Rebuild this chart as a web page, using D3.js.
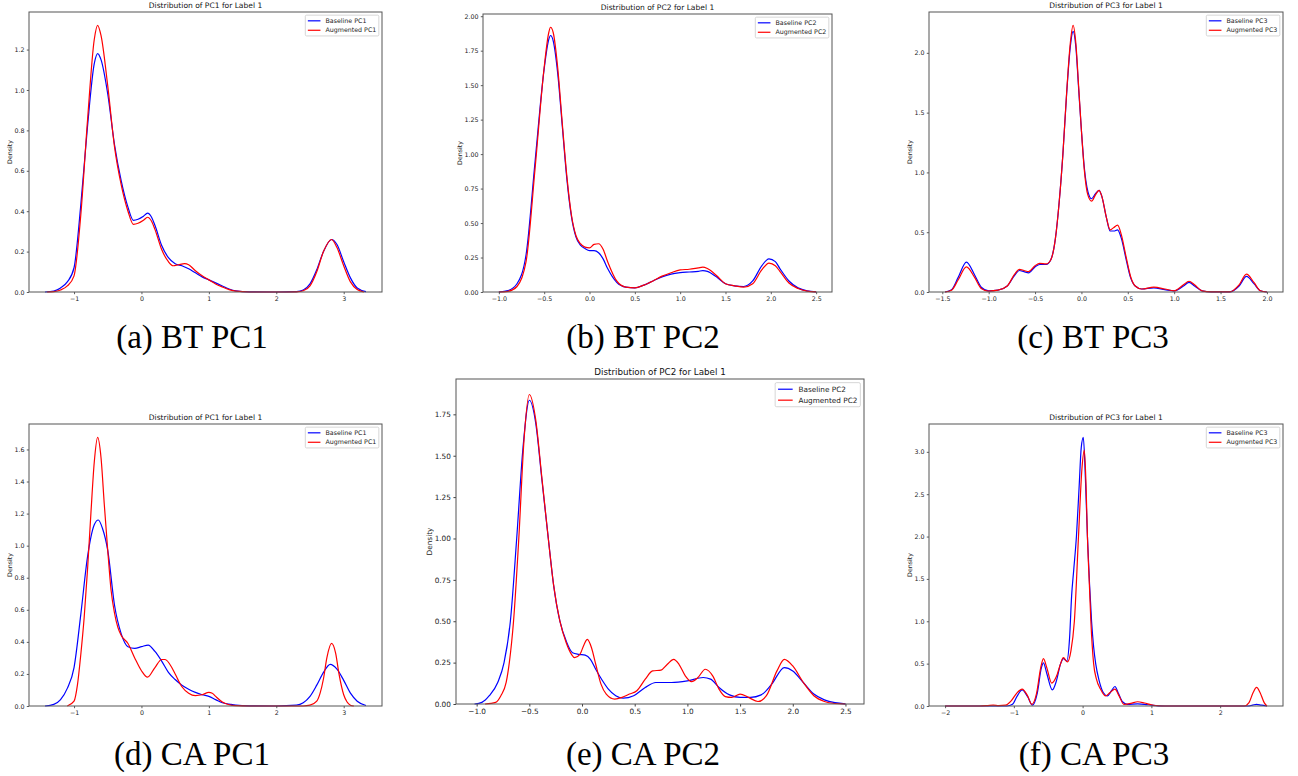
<!DOCTYPE html>
<html>
<head>
<meta charset="utf-8">
<script src="https://cdn.jsdelivr.net/npm/d3@7"></script>
<style>
body { margin: 0; background: #fff; }
</style>
</head>
<body>
<svg id="fig" width="1298" height="776"></svg>
<script>
// density curves, [x, density]
var btPC1Base = [[-1.43,0],[-1.3,0.005],[-1.2,0.02],[-1.1,0.05],[-1.0,0.12],[-0.9,0.43],[-0.8,0.82],[-0.7,1.13],[-0.65,1.18],[-0.6,1.15],[-0.5,0.98],[-0.4,0.73],[-0.3,0.55],[-0.2,0.42],[-0.12,0.355],[-0.05,0.36],[0.03,0.375],[0.09,0.39],[0.15,0.37],[0.2,0.33],[0.3,0.23],[0.4,0.17],[0.5,0.14],[0.6,0.13],[0.7,0.115],[0.8,0.095],[0.9,0.075],[1.0,0.06],[1.1,0.045],[1.2,0.03],[1.3,0.015],[1.4,0.006],[1.6,0.001],[2.0,0],[2.3,0.002],[2.4,0.01],[2.5,0.04],[2.6,0.11],[2.7,0.2],[2.82,0.26],[2.9,0.235],[3.0,0.15],[3.1,0.07],[3.2,0.02],[3.33,0.002]];
var btPC1Aug = [[-1.4,0],[-1.3,0.002],[-1.2,0.01],[-1.1,0.03],[-1.0,0.08],[-0.9,0.38],[-0.8,0.85],[-0.7,1.25],[-0.65,1.32],[-0.6,1.27],[-0.5,1.02],[-0.4,0.72],[-0.3,0.53],[-0.2,0.4],[-0.12,0.335],[-0.05,0.34],[0.03,0.355],[0.09,0.37],[0.15,0.35],[0.2,0.31],[0.3,0.21],[0.4,0.15],[0.47,0.13],[0.55,0.135],[0.64,0.14],[0.7,0.135],[0.8,0.105],[0.9,0.08],[1.0,0.06],[1.1,0.04],[1.2,0.025],[1.3,0.012],[1.4,0.004],[1.6,0],[2.0,0],[2.3,0.001],[2.4,0.006],[2.5,0.03],[2.6,0.1],[2.7,0.2],[2.82,0.26],[2.9,0.22],[3.0,0.13],[3.1,0.05],[3.2,0.012],[3.3,0]];

var btPC2Base = [[-1.0,0],[-0.9,0.01],[-0.8,0.06],[-0.7,0.27],[-0.6,0.95],[-0.5,1.62],[-0.45,1.83],[-0.43,1.86],[-0.4,1.82],[-0.35,1.58],[-0.3,1.2],[-0.25,0.82],[-0.2,0.55],[-0.15,0.4],[-0.1,0.34],[-0.05,0.315],[0,0.3],[0.05,0.3],[0.1,0.285],[0.15,0.24],[0.2,0.17],[0.3,0.07],[0.4,0.035],[0.5,0.03],[0.6,0.05],[0.7,0.08],[0.8,0.11],[0.9,0.13],[1.0,0.14],[1.1,0.145],[1.2,0.15],[1.25,0.155],[1.3,0.15],[1.4,0.11],[1.5,0.06],[1.6,0.045],[1.7,0.04],[1.8,0.08],[1.9,0.19],[1.98,0.24],[2.05,0.22],[2.1,0.17],[2.2,0.08],[2.3,0.03],[2.4,0.008],[2.5,0.001]];
var btPC2Aug = [[-1.0,0],[-0.9,0.005],[-0.8,0.04],[-0.7,0.22],[-0.6,0.9],[-0.5,1.63],[-0.45,1.88],[-0.43,1.92],[-0.4,1.88],[-0.35,1.62],[-0.3,1.22],[-0.25,0.84],[-0.2,0.56],[-0.15,0.41],[-0.1,0.35],[-0.05,0.325],[0,0.32],[0.05,0.345],[0.1,0.35],[0.15,0.31],[0.2,0.22],[0.3,0.08],[0.4,0.035],[0.5,0.03],[0.6,0.05],[0.7,0.08],[0.8,0.115],[0.9,0.14],[1.0,0.16],[1.1,0.165],[1.2,0.175],[1.25,0.18],[1.3,0.17],[1.4,0.12],[1.5,0.06],[1.6,0.045],[1.7,0.035],[1.8,0.06],[1.9,0.16],[1.98,0.21],[2.05,0.19],[2.1,0.15],[2.2,0.065],[2.3,0.025],[2.4,0.006],[2.5,0.001]];

var btPC3Base = [[-1.47,0],[-1.4,0.02],[-1.33,0.12],[-1.24,0.25],[-1.15,0.14],[-1.08,0.04],[-1.0,0.01],[-0.9,0.015],[-0.8,0.05],[-0.72,0.14],[-0.67,0.18],[-0.62,0.17],[-0.57,0.16],[-0.5,0.21],[-0.45,0.23],[-0.38,0.23],[-0.33,0.27],[-0.28,0.45],[-0.24,0.75],[-0.2,1.15],[-0.16,1.65],[-0.12,2.05],[-0.09,2.18],[-0.06,2.05],[-0.03,1.7],[0,1.35],[0.03,1.05],[0.07,0.84],[0.11,0.78],[0.15,0.82],[0.19,0.85],[0.22,0.8],[0.27,0.62],[0.31,0.51],[0.35,0.51],[0.39,0.52],[0.43,0.45],[0.48,0.28],[0.53,0.12],[0.58,0.05],[0.65,0.025],[0.78,0.035],[0.9,0.02],[1.0,0.01],[1.1,0.05],[1.16,0.08],[1.22,0.05],[1.3,0.01],[1.4,0.001],[1.6,0.001],[1.7,0.05],[1.78,0.13],[1.86,0.07],[1.93,0.01],[2.0,0]];
var btPC3Aug = [[-1.47,0],[-1.4,0.015],[-1.33,0.1],[-1.24,0.21],[-1.15,0.12],[-1.08,0.03],[-1.0,0.008],[-0.9,0.015],[-0.8,0.05],[-0.72,0.15],[-0.67,0.19],[-0.62,0.18],[-0.57,0.17],[-0.5,0.22],[-0.45,0.24],[-0.38,0.235],[-0.33,0.27],[-0.28,0.45],[-0.24,0.75],[-0.2,1.15],[-0.16,1.66],[-0.12,2.08],[-0.09,2.23],[-0.06,2.08],[-0.03,1.72],[0,1.35],[0.03,1.03],[0.07,0.81],[0.11,0.76],[0.15,0.81],[0.19,0.85],[0.22,0.8],[0.27,0.62],[0.31,0.52],[0.35,0.54],[0.39,0.56],[0.43,0.48],[0.48,0.3],[0.53,0.13],[0.58,0.05],[0.65,0.025],[0.78,0.04],[0.9,0.025],[1.0,0.01],[1.1,0.06],[1.16,0.09],[1.22,0.06],[1.3,0.01],[1.4,0.001],[1.6,0.001],[1.7,0.06],[1.78,0.15],[1.86,0.08],[1.93,0.01],[2.0,0]];

var caPC1Base = [[-1.43,0],[-1.3,0.01],[-1.2,0.04],[-1.1,0.11],[-1.0,0.24],[-0.9,0.57],[-0.8,0.93],[-0.7,1.13],[-0.64,1.16],[-0.58,1.11],[-0.5,0.97],[-0.4,0.63],[-0.3,0.45],[-0.2,0.37],[-0.1,0.36],[0,0.37],[0.1,0.38],[0.2,0.34],[0.3,0.28],[0.4,0.21],[0.5,0.165],[0.6,0.13],[0.7,0.105],[0.8,0.085],[0.9,0.07],[1.0,0.06],[1.1,0.04],[1.2,0.02],[1.3,0.012],[1.4,0.005],[1.6,0.001],[2.0,0],[2.3,0.005],[2.4,0.02],[2.5,0.06],[2.6,0.13],[2.7,0.21],[2.8,0.26],[2.9,0.23],[3.0,0.16],[3.1,0.08],[3.2,0.03],[3.33,0.003]];
var caPC1Aug = [[-1.1,0],[-1.0,0.03],[-0.95,0.13],[-0.9,0.32],[-0.85,0.55],[-0.8,0.85],[-0.75,1.2],[-0.7,1.52],[-0.65,1.675],[-0.6,1.55],[-0.55,1.25],[-0.5,0.97],[-0.45,0.72],[-0.4,0.58],[-0.35,0.49],[-0.3,0.44],[-0.2,0.39],[-0.1,0.3],[0,0.22],[0.09,0.18],[0.2,0.24],[0.3,0.29],[0.35,0.29],[0.45,0.24],[0.5,0.2],[0.6,0.12],[0.7,0.08],[0.8,0.065],[0.9,0.07],[1.0,0.085],[1.05,0.08],[1.1,0.06],[1.2,0.025],[1.3,0.008],[1.4,0.002],[1.6,0],[2.0,0],[2.4,0],[2.5,0.005],[2.6,0.03],[2.65,0.08],[2.7,0.17],[2.75,0.3],[2.82,0.39],[2.88,0.33],[2.93,0.2],[3.0,0.07],[3.05,0.025],[3.1,0.005],[3.15,0]];

var caPC2Base = [[-1.02,0],[-0.95,0.01],[-0.88,0.05],[-0.8,0.13],[-0.74,0.25],[-0.68,0.5],[-0.62,1.0],[-0.56,1.55],[-0.5,1.835],[-0.44,1.7],[-0.38,1.35],[-0.32,1.0],[-0.27,0.72],[-0.21,0.5],[-0.15,0.38],[-0.09,0.31],[-0.03,0.3],[0.03,0.295],[0.08,0.27],[0.13,0.21],[0.19,0.145],[0.25,0.09],[0.32,0.05],[0.39,0.035],[0.49,0.05],[0.6,0.1],[0.7,0.13],[0.85,0.13],[1.0,0.14],[1.15,0.16],[1.22,0.15],[1.3,0.1],[1.4,0.055],[1.5,0.04],[1.6,0.04],[1.7,0.055],[1.8,0.12],[1.92,0.22],[2.0,0.2],[2.1,0.13],[2.2,0.06],[2.3,0.025],[2.4,0.008],[2.5,0.001]];
var caPC2Aug = [[-0.92,0],[-0.82,0.01],[-0.77,0.05],[-0.72,0.13],[-0.69,0.25],[-0.65,0.5],[-0.6,1.0],[-0.55,1.6],[-0.5,1.87],[-0.44,1.72],[-0.38,1.36],[-0.32,1.0],[-0.27,0.72],[-0.21,0.5],[-0.15,0.37],[-0.1,0.3],[-0.07,0.28],[-0.02,0.3],[0.02,0.36],[0.05,0.39],[0.09,0.34],[0.13,0.24],[0.18,0.12],[0.23,0.06],[0.31,0.03],[0.38,0.04],[0.45,0.06],[0.52,0.08],[0.6,0.15],[0.67,0.2],[0.75,0.205],[0.81,0.24],[0.87,0.27],[0.92,0.24],[0.98,0.17],[1.04,0.135],[1.1,0.16],[1.17,0.21],[1.24,0.17],[1.3,0.09],[1.36,0.045],[1.42,0.04],[1.5,0.06],[1.58,0.04],[1.67,0.015],[1.75,0.05],[1.85,0.2],[1.92,0.27],[2.0,0.23],[2.1,0.13],[2.2,0.05],[2.3,0.015],[2.4,0.003],[2.5,0]];

var caPC3Base = [[-2.0,0],[-1.5,0],[-1.1,0],[-1.02,0.02],[-0.95,0.12],[-0.88,0.19],[-0.8,0.11],[-0.73,0.01],[-0.66,0.15],[-0.6,0.45],[-0.57,0.51],[-0.52,0.38],[-0.44,0.19],[-0.38,0.3],[-0.32,0.5],[-0.28,0.56],[-0.23,0.53],[-0.19,0.8],[-0.16,1.3],[-0.13,1.6],[-0.09,2.0],[-0.05,2.6],[-0.02,3.05],[0.01,3.17],[0.04,2.7],[0.07,2.0],[0.1,1.45],[0.13,1.0],[0.16,0.7],[0.19,0.5],[0.24,0.3],[0.3,0.16],[0.36,0.12],[0.42,0.18],[0.47,0.23],[0.52,0.15],[0.58,0.05],[0.65,0.02],[0.8,0.025],[0.9,0.02],[1.0,0.01],[1.1,0.002],[1.3,0],[2.4,0],[2.47,0.01],[2.53,0.02],[2.6,0.01],[2.68,0]];
var caPC3Aug = [[-2.0,0],[-1.5,0],[-1.38,0.005],[-1.3,0.01],[-1.22,0.005],[-1.12,0.01],[-1.04,0.06],[-0.96,0.15],[-0.88,0.2],[-0.8,0.12],[-0.74,0.02],[-0.67,0.15],[-0.61,0.45],[-0.57,0.56],[-0.52,0.45],[-0.45,0.27],[-0.38,0.35],[-0.32,0.5],[-0.28,0.57],[-0.22,0.52],[-0.17,0.65],[-0.12,1.0],[-0.06,2.0],[-0.01,2.8],[0.025,3.02],[0.05,2.6],[0.07,2.0],[0.1,1.4],[0.12,1.0],[0.16,0.5],[0.2,0.32],[0.26,0.2],[0.33,0.12],[0.4,0.16],[0.47,0.2],[0.53,0.12],[0.6,0.02],[0.7,0.03],[0.8,0.05],[0.9,0.035],[1.0,0.015],[1.1,0.003],[1.2,0],[2.35,0],[2.42,0.04],[2.48,0.16],[2.53,0.22],[2.58,0.16],[2.64,0.04],[2.68,0]];

// tick values
var ticksPC1X = [-1, 0, 1, 2, 3];
var ticksPC2X = [-1.0, -0.5, 0.0, 0.5, 1.0, 1.5, 2.0, 2.5];
var ticksBtPC3X = [-1.5, -1.0, -0.5, 0.0, 0.5, 1.0, 1.5, 2.0];
var ticksCaPC3X = [-2, -1, 0, 1, 2];
var ticksBtPC1Y = [0, 0.2, 0.4, 0.6, 0.8, 1.0, 1.2];
var ticksPC2Y = [0, 0.25, 0.5, 0.75, 1.0, 1.25, 1.5, 1.75, 2.0];
var ticksBtPC3Y = [0, 0.5, 1.0, 1.5, 2.0];
var ticksCaPC1Y = [0, 0.2, 0.4, 0.6, 0.8, 1.0, 1.2, 1.4, 1.6];
var ticksCaPC3Y = [0, 0.5, 1.0, 1.5, 2.0, 2.5, 3.0];

var captions = ["(a) BT PC1", "(b) BT PC2", "(c) BT PC3", "(d) CA PC1", "(e) CA PC2", "(f) CA PC3"];
var pcNames = ["PC1", "PC2", "PC3", "PC1", "PC2", "PC3"];

// layout of each subplot (frame box in px, s = px per pt)
var panels = [
  {base: btPC1Base, aug: btPC1Aug, xt: ticksPC1X, xf: "d", yt: ticksBtPC1Y, yf: ".1f",
   l: 29, t: 12, r: 382, b: 292, s: 0.63, cx: 192, cy: 348},
  {base: btPC2Base, aug: btPC2Aug, xt: ticksPC2X, xf: ".1f", yt: ticksPC2Y, yf: ".2f",
   l: 483, t: 14, r: 832, b: 292, s: 0.63, cx: 643, cy: 348},
  {base: btPC3Base, aug: btPC3Aug, xt: ticksBtPC3X, xf: ".1f", yt: ticksBtPC3Y, yf: ".1f",
   l: 929, t: 12, r: 1283, b: 292, s: 0.63, cx: 1093, cy: 348},
  {base: caPC1Base, aug: caPC1Aug, xt: ticksPC1X, xf: "d", yt: ticksCaPC1Y, yf: ".1f",
   l: 29, t: 424, r: 382, b: 706, s: 0.63, cx: 192, cy: 765},
  {base: caPC2Base, aug: caPC2Aug, xt: ticksPC2X, xf: ".1f", yt: ticksPC2Y.slice(0, 8), yf: ".2f",
   l: 456, t: 379, r: 864, b: 704, s: 0.73, cx: 643, cy: 765},
  {base: caPC3Base, aug: caPC3Aug, xt: ticksCaPC3X, xf: "d", yt: ticksCaPC3Y, yf: ".1f",
   l: 929, t: 424, r: 1283, b: 706, s: 0.63, cx: 1094, cy: 765}
];

var svg = d3.select("#fig");
var font = "DejaVu Sans";

panels.forEach(function(p, i) {
  var s = p.s;
  var all = p.base.concat(p.aug);
  var xe = d3.extent(all, function(d) { return d[0]; });
  var xm = (xe[1] - xe[0]) * 0.05;
  var x = d3.scaleLinear().domain([xe[0] - xm, xe[1] + xm]).range([p.l, p.r]);
  var y = d3.scaleLinear().domain([0, d3.max(all, function(d) { return d[1]; }) * 1.05]).range([p.b, p.t]);

  var g = svg.append("g");

  var line = d3.line()
    .x(function(d) { return x(d[0]); })
    .y(function(d) { return y(d[1]); })
    .curve(d3.curveMonotoneX);

  g.append("path").datum(p.base)
    .attr("d", line).attr("fill", "none")
    .attr("stroke", "#0000ff").attr("stroke-width", 1.2);
  g.append("path").datum(p.aug)
    .attr("d", line).attr("fill", "none")
    .attr("stroke", "#ff0000").attr("stroke-width", 1.2);

  var xAxis = d3.axisBottom(x).tickValues(p.xt).tickFormat(d3.format(p.xf))
    .tickSize(3.5 * s).tickPadding(3.5 * s);
  var yAxis = d3.axisLeft(y).tickValues(p.yt).tickFormat(d3.format(p.yf))
    .tickSize(3.5 * s).tickPadding(3.5 * s);

  var gx = g.append("g").attr("transform", "translate(0," + p.b + ")").call(xAxis);
  var gy = g.append("g").attr("transform", "translate(" + p.l + ",0)").call(yAxis);
  [gx, gy].forEach(function(a) {
    a.select(".domain").remove();
    a.selectAll("line").attr("stroke", "#333").attr("stroke-width", 0.8 * s / 0.63);
    a.selectAll("text").attr("fill", "#222").style("font-family", font).style("font-size", (10 * s) + "px");
  });

  // frame
  g.append("rect")
    .attr("x", p.l).attr("y", p.t)
    .attr("width", p.r - p.l).attr("height", p.b - p.t)
    .attr("fill", "none").attr("stroke", "#555").attr("stroke-width", 1);

  // y label, placed left of the tick labels (bbox is in the axis group's own coords)
  var bb = gy.node().getBBox();
  var lx = p.l + bb.x - 4 * s;
  var ly = (p.t + p.b) / 2;
  g.append("text")
    .attr("transform", "translate(" + lx + "," + ly + ")rotate(-90)")
    .attr("text-anchor", "middle")
    .style("font-family", font).style("font-size", (10 * s) + "px")
    .attr("fill", "#222")
    .text("Density");

  // title
  g.append("text")
    .attr("x", (p.l + p.r) / 2).attr("y", p.t - 6 * s)
    .attr("text-anchor", "middle")
    .style("font-family", font).style("font-size", (12 * s) + "px")
    .attr("fill", "#111")
    .text("Distribution of " + pcNames[i] + " for Label 1");

  // legend
  var fs = 10 * s;
  var names = ["Baseline " + pcNames[i], "Augmented " + pcNames[i]];
  var colors = ["#0000ff", "#ff0000"];
  var lg = g.append("g");
  var box = lg.append("rect").attr("fill", "white").attr("stroke", "#ccc")
    .attr("stroke-width", 0.8).attr("rx", 2 * s);
  var tw = 0;
  names.forEach(function(n, k) {
    var t = lg.append("text")
      .attr("x", 0).attr("y", 0)
      .style("font-family", font).style("font-size", fs + "px")
      .attr("fill", "#222").text(n);
    tw = Math.max(tw, t.node().getComputedTextLength());
  });
  var bpad = 0.4 * fs, hl = 2 * fs, htp = 0.8 * fs, rowH = 1.5 * fs;
  var bw = bpad + hl + htp + tw + bpad;
  var bh = bpad * 2 + fs + rowH;
  var bx = p.r - 0.5 * fs - bw;
  var by = p.t + 0.5 * fs;
  box.attr("x", bx).attr("y", by).attr("width", bw).attr("height", bh);
  lg.selectAll("text").each(function(d, k) {
    var cy = by + bpad + fs / 2 + k * rowH;
    d3.select(this).attr("x", bx + bpad + hl + htp).attr("y", cy).attr("dy", "0.35em");
    lg.append("line")
      .attr("x1", bx + bpad).attr("x2", bx + bpad + hl)
      .attr("y1", cy).attr("y2", cy)
      .attr("stroke", colors[k]).attr("stroke-width", 1.2);
  });

  // subfigure caption
  svg.append("text")
    .attr("x", p.cx).attr("y", p.cy)
    .attr("text-anchor", "middle")
    .style("font-family", "Liberation Serif").style("font-size", "33px")
    .attr("fill", "#000")
    .text(captions[i]);
});
</script>
</body>
</html>
